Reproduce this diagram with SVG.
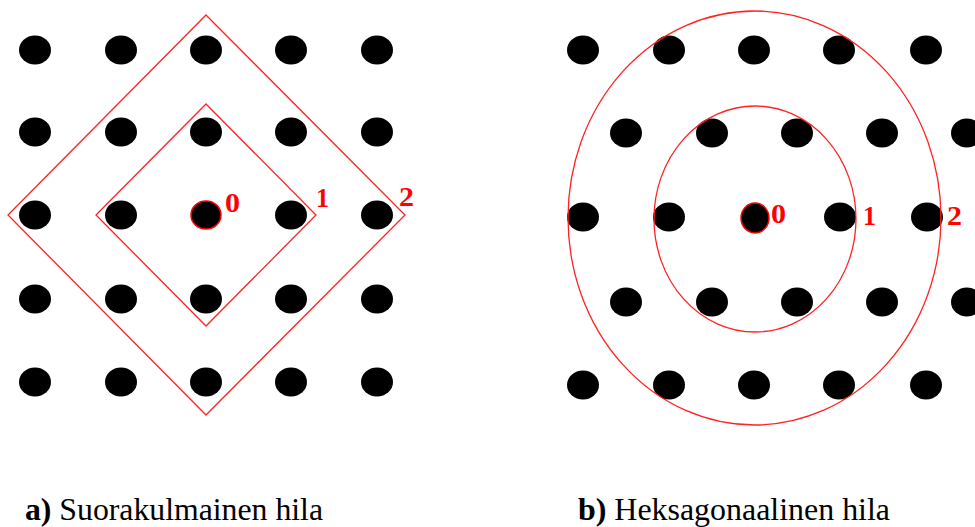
<svg xmlns="http://www.w3.org/2000/svg" width="975" height="527" viewBox="0 0 975 527">
<defs>
<style>
.d{fill:#000}
.c{fill:#000;stroke:#f00;stroke-width:1.5}
.r{fill:none;stroke:#f22;stroke-width:1.3}
.n{font-weight:bold;font-size:27px;fill:#f00}
.cap{font-size:32px;fill:#000}
</style>
<ellipse id="dot" rx="16" ry="14.5"/>
</defs>
<rect width="975" height="527" fill="#fff"/>
<g id="square-lattice">
<g class="d">
<use href="#dot" x="35" y="50"/><use href="#dot" x="121" y="50"/><use href="#dot" x="206" y="50"/><use href="#dot" x="291" y="50"/><use href="#dot" x="377" y="50"/>
<use href="#dot" x="35" y="132"/><use href="#dot" x="121" y="132"/><use href="#dot" x="206" y="132"/><use href="#dot" x="291" y="132"/><use href="#dot" x="377" y="132"/>
<use href="#dot" x="35" y="215"/><use href="#dot" x="121" y="215"/><use href="#dot" x="291" y="215"/><use href="#dot" x="377" y="215"/>
<use href="#dot" x="35" y="299"/><use href="#dot" x="121" y="299"/><use href="#dot" x="206" y="299"/><use href="#dot" x="291" y="299"/><use href="#dot" x="377" y="299"/>
<use href="#dot" x="35" y="382"/><use href="#dot" x="121" y="382"/><use href="#dot" x="206" y="382"/><use href="#dot" x="291" y="382"/><use href="#dot" x="377" y="382"/>
</g>
<ellipse class="c" cx="206" cy="215" rx="15" ry="14"/>
</g>
<g id="square-rings">
<polygon class="r" points="206,104 316,215 206,326 96,215"/>
<polygon class="r" points="206,15 405,215 206,415 8,215"/>
</g>
<g id="square-labels" font-family="Liberation Serif, serif">
<text class="n" x="225" y="212" textLength="15" lengthAdjust="spacingAndGlyphs">0</text>
<text class="n" x="316" y="207" textLength="13" lengthAdjust="spacingAndGlyphs">1</text>
<text class="n" x="399" y="206" textLength="15" lengthAdjust="spacingAndGlyphs">2</text>
</g>
<g id="hex-lattice">
<g class="d">
<use href="#dot" x="583" y="50"/><use href="#dot" x="669" y="50"/><use href="#dot" x="754" y="50"/><use href="#dot" x="839" y="50"/><use href="#dot" x="926" y="50"/>
<use href="#dot" x="626" y="133"/><use href="#dot" x="712" y="133"/><use href="#dot" x="797" y="133"/><use href="#dot" x="882" y="133"/><use href="#dot" x="967" y="133"/>
<use href="#dot" x="583" y="217"/><use href="#dot" x="669" y="217"/><use href="#dot" x="840" y="217"/><use href="#dot" x="927" y="217"/>
<use href="#dot" x="626" y="302"/><use href="#dot" x="712" y="302"/><use href="#dot" x="797" y="302"/><use href="#dot" x="882" y="302"/><use href="#dot" x="967" y="302"/>
<use href="#dot" x="583" y="385"/><use href="#dot" x="669" y="385"/><use href="#dot" x="754" y="385"/><use href="#dot" x="839" y="385"/><use href="#dot" x="926" y="385"/>
</g>
<ellipse class="c" cx="755" cy="218" rx="14" ry="15"/>
</g>
<g id="hex-rings">
<ellipse class="r" cx="755" cy="219" rx="101" ry="113"/>
<ellipse class="r" cx="754.5" cy="218" rx="186.5" ry="207"/>
</g>
<g id="hex-labels" font-family="Liberation Serif, serif">
<text class="n" x="771" y="223" textLength="15" lengthAdjust="spacingAndGlyphs">0</text>
<text class="n" x="863" y="225" textLength="13" lengthAdjust="spacingAndGlyphs">1</text>
<text class="n" x="947" y="225" textLength="15" lengthAdjust="spacingAndGlyphs">2</text>
</g>
<g id="captions" font-family="Liberation Serif, serif">
<text class="cap" x="25" y="520" textLength="298" lengthAdjust="spacingAndGlyphs"><tspan font-weight="bold">a)</tspan> Suorakulmainen hila</text>
<text class="cap" x="578" y="520" textLength="312" lengthAdjust="spacingAndGlyphs"><tspan font-weight="bold">b)</tspan> Heksagonaalinen hila</text>
</g>
</svg>
